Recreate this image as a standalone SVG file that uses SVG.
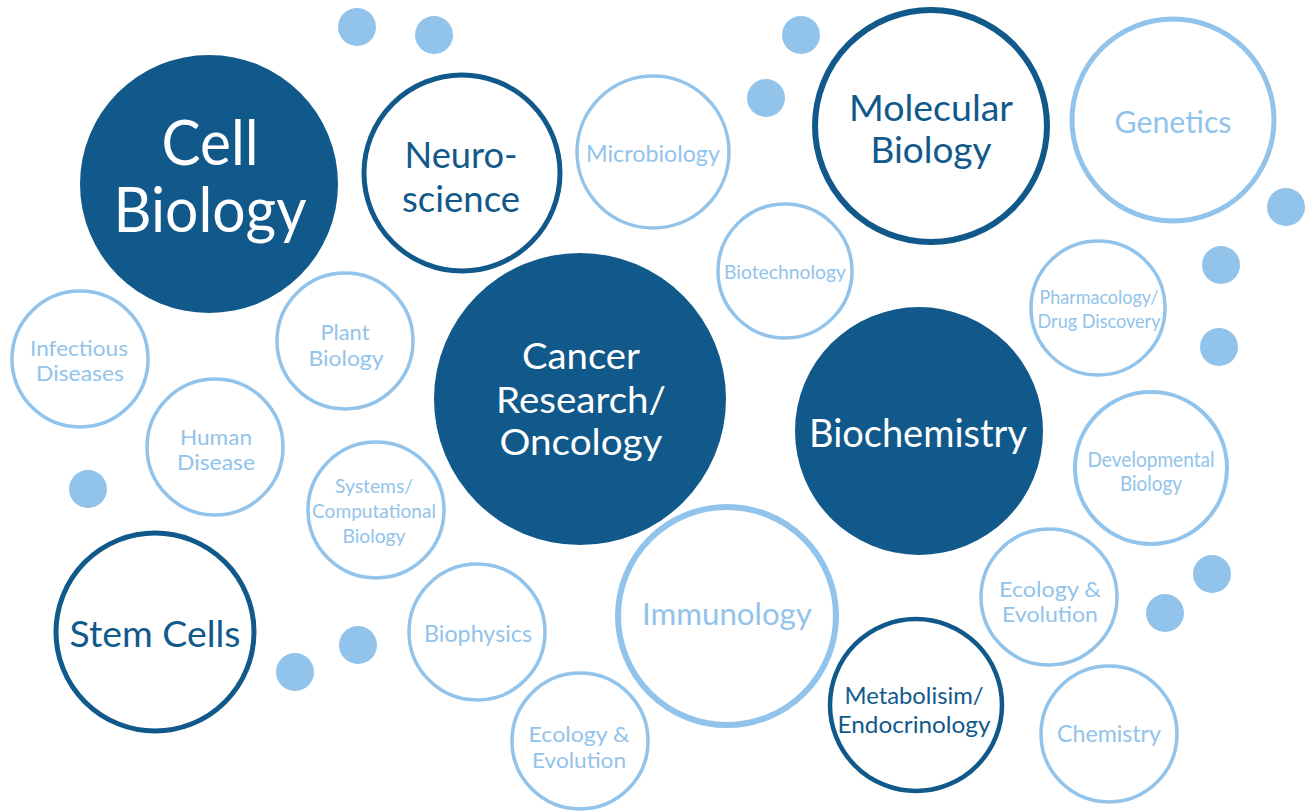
<svg xmlns="http://www.w3.org/2000/svg" width="1310" height="812" viewBox="0 0 1310 812">
<style>
.bg{fill:#ffffff}
.solid{fill:#11598a}
.rd{fill:#ffffff;stroke:#11598a}
.rl{fill:#ffffff;stroke:#92c3ea}
.dot{fill:#92c3ea}
text{font-family:Lato,"Open Sans","Noto Sans",sans-serif;text-anchor:middle}
.tw{fill:#ffffff}
.td{fill:#11598a}
.tl{fill:#92c3ea}
</style>
<rect class="bg" x="0" y="0" width="1310" height="812"/>
<g id="dots">
<circle class="dot" cx="357" cy="27" r="19"/>
<circle class="dot" cx="434" cy="35" r="19"/>
<circle class="dot" cx="801" cy="35" r="19"/>
<circle class="dot" cx="766" cy="98" r="19"/>
<circle class="dot" cx="1286" cy="207" r="19"/>
<circle class="dot" cx="1221" cy="265" r="19"/>
<circle class="dot" cx="1219" cy="347" r="19"/>
<circle class="dot" cx="88" cy="489" r="19"/>
<circle class="dot" cx="295" cy="672" r="19"/>
<circle class="dot" cx="358" cy="645" r="19"/>
<circle class="dot" cx="1212" cy="574" r="19"/>
<circle class="dot" cx="1165" cy="613" r="19"/>
</g>
<g id="cell-biology">
<circle class="solid" cx="209" cy="184" r="129"/>
<text class="tw" x="210" y="165" font-size="62" textLength="97" lengthAdjust="spacingAndGlyphs">Cell</text>
<text class="tw" x="210" y="232" font-size="62" textLength="193" lengthAdjust="spacingAndGlyphs">Biology</text>
</g>
<g id="neuroscience">
<circle class="rd" cx="462" cy="173" r="98" stroke-width="5"/>
<text class="td" x="461" y="168" font-size="37" textLength="113" lengthAdjust="spacingAndGlyphs">Neuro-</text>
<text class="td" x="461" y="212" font-size="37" textLength="118" lengthAdjust="spacingAndGlyphs">science</text>
</g>
<g id="microbiology">
<circle class="rl" cx="653" cy="152" r="76" stroke-width="3.5"/>
<text class="tl" x="653" y="162" font-size="23" textLength="134" lengthAdjust="spacingAndGlyphs">Microbiology</text>
</g>
<g id="molecular-biology">
<circle class="rd" cx="931" cy="126" r="116" stroke-width="6"/>
<text class="td" x="931" y="121" font-size="36" textLength="164" lengthAdjust="spacingAndGlyphs">Molecular</text>
<text class="td" x="931" y="163" font-size="36" textLength="121" lengthAdjust="spacingAndGlyphs">Biology</text>
</g>
<g id="genetics">
<circle class="rl" cx="1173" cy="120" r="101" stroke-width="5"/>
<text class="tl" x="1173" y="133" font-size="30" textLength="117" lengthAdjust="spacingAndGlyphs">Genetics</text>
</g>
<g id="biotechnology">
<circle class="rl" cx="785" cy="271" r="67" stroke-width="3.5"/>
<text class="tl" x="785" y="279" font-size="19.5" textLength="122" lengthAdjust="spacingAndGlyphs">Biotechnology</text>
</g>
<g id="pharmacology">
<circle class="rl" cx="1098" cy="308" r="67" stroke-width="3.5"/>
<text class="tl" x="1099" y="304" font-size="20" textLength="119" lengthAdjust="spacingAndGlyphs">Pharmacology/</text>
<text class="tl" x="1099" y="328" font-size="20" textLength="123" lengthAdjust="spacingAndGlyphs">Drug Discovery</text>
</g>
<g id="cancer-research">
<circle class="solid" cx="580" cy="399" r="146"/>
<text class="tw" x="581" y="369" font-size="37" textLength="118" lengthAdjust="spacingAndGlyphs">Cancer</text>
<text class="tw" x="581" y="413" font-size="37" textLength="170" lengthAdjust="spacingAndGlyphs">Research/</text>
<text class="tw" x="581" y="455" font-size="37" textLength="163" lengthAdjust="spacingAndGlyphs">Oncology</text>
</g>
<g id="biochemistry">
<circle class="solid" cx="919" cy="431" r="124"/>
<text class="tw" x="918" y="447" font-size="39" textLength="218" lengthAdjust="spacingAndGlyphs">Biochemistry</text>
</g>
<g id="developmental-biology">
<circle class="rl" cx="1151" cy="468" r="76" stroke-width="4"/>
<text class="tl" x="1151" y="467" font-size="21" textLength="127" lengthAdjust="spacingAndGlyphs">Developmental</text>
<text class="tl" x="1151" y="491" font-size="21" textLength="62" lengthAdjust="spacingAndGlyphs">Biology</text>
</g>
<g id="infectious-diseases">
<circle class="rl" cx="80" cy="359" r="68" stroke-width="3.5"/>
<text class="tl" x="79" y="356" font-size="22" textLength="98" lengthAdjust="spacingAndGlyphs">Infectious</text>
<text class="tl" x="80" y="381" font-size="22" textLength="88" lengthAdjust="spacingAndGlyphs">Diseases</text>
</g>
<g id="plant-biology">
<circle class="rl" cx="345" cy="341" r="68" stroke-width="3.5"/>
<text class="tl" x="345" y="340" font-size="22" textLength="49" lengthAdjust="spacingAndGlyphs">Plant</text>
<text class="tl" x="346" y="366" font-size="22" textLength="75" lengthAdjust="spacingAndGlyphs">Biology</text>
</g>
<g id="human-disease">
<circle class="rl" cx="215" cy="447" r="68" stroke-width="3.5"/>
<text class="tl" x="216" y="445" font-size="22" textLength="72" lengthAdjust="spacingAndGlyphs">Human</text>
<text class="tl" x="216" y="470" font-size="22" textLength="78" lengthAdjust="spacingAndGlyphs">Disease</text>
</g>
<g id="systems-biology">
<circle class="rl" cx="376" cy="510" r="68" stroke-width="3.5"/>
<text class="tl" x="374" y="493" font-size="20" textLength="78" lengthAdjust="spacingAndGlyphs">Systems/</text>
<text class="tl" x="374" y="518" font-size="20" textLength="124" lengthAdjust="spacingAndGlyphs">Computational</text>
<text class="tl" x="374" y="543" font-size="20" textLength="63" lengthAdjust="spacingAndGlyphs">Biology</text>
</g>
<g id="stem-cells">
<circle class="rd" cx="155" cy="632" r="99" stroke-width="5"/>
<text class="td" x="155" y="647" font-size="36" textLength="171" lengthAdjust="spacingAndGlyphs">Stem Cells</text>
</g>
<g id="biophysics">
<circle class="rl" cx="477" cy="632" r="68" stroke-width="3.5"/>
<text class="tl" x="478" y="642" font-size="23" textLength="108" lengthAdjust="spacingAndGlyphs">Biophysics</text>
</g>
<g id="ecology-evolution-1">
<circle class="rl" cx="580" cy="741" r="68" stroke-width="3.5"/>
<text class="tl" x="579" y="742" font-size="22" textLength="101" lengthAdjust="spacingAndGlyphs">Ecology &amp;</text>
<text class="tl" x="579" y="768" font-size="22" textLength="94" lengthAdjust="spacingAndGlyphs">Evolution</text>
</g>
<g id="immunology">
<circle class="rl" cx="727" cy="616" r="109" stroke-width="6"/>
<text class="tl" x="727" y="625" font-size="31" textLength="170" lengthAdjust="spacingAndGlyphs">Immunology</text>
</g>
<g id="metabolism">
<circle class="rd" cx="916" cy="705" r="86" stroke-width="4.5"/>
<text class="td" x="914" y="704" font-size="23" textLength="139" lengthAdjust="spacingAndGlyphs">Metabolisim/</text>
<text class="td" x="914" y="733" font-size="23" textLength="153" lengthAdjust="spacingAndGlyphs">Endocrinology</text>
</g>
<g id="ecology-evolution-2">
<circle class="rl" cx="1049" cy="597" r="68" stroke-width="3.5"/>
<text class="tl" x="1050" y="597" font-size="22" textLength="102" lengthAdjust="spacingAndGlyphs">Ecology &amp;</text>
<text class="tl" x="1050" y="622" font-size="22" textLength="96" lengthAdjust="spacingAndGlyphs">Evolution</text>
</g>
<g id="chemistry">
<circle class="rl" cx="1109" cy="734" r="68" stroke-width="3.5"/>
<text class="tl" x="1109" y="742" font-size="23" textLength="104" lengthAdjust="spacingAndGlyphs">Chemistry</text>
</g>
</svg>
